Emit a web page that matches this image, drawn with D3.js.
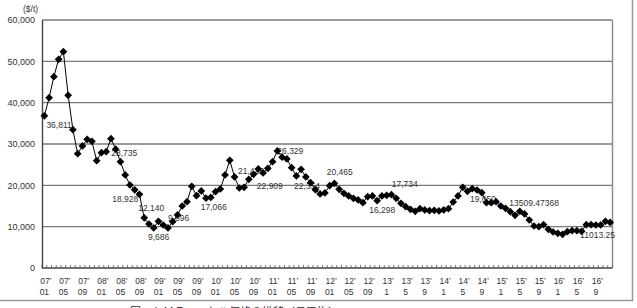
<!DOCTYPE html>
<html>
<head>
<meta charset="utf-8">
<script src="https://cdn.jsdelivr.net/npm/d3@7"></script>
<style>
  body { margin: 0; background: #fff; }
  svg { display: block; font-family: "Liberation Sans", Arial, sans-serif; }
</style>
</head>
<body>
<svg width="637" height="308"></svg>
<script>
// monthly price, 2007-01 .. 2016-12 ($/t)
var prices2007 = [36811, 41212, 46290, 50486, 52341, 41776, 33469, 27662, 29517, 31130, 30646, 25969];
var prices2008 = [27904, 28146, 31291, 28735, 25727, 22501, 20081, 18928, 17823, 12140, 10645, 9686];
var prices2009 = [11290, 10403, 9696, 11210, 12823, 15000, 16049, 19759, 17500, 18630, 16900, 17066];
var prices2010 = [18468, 19113, 22501, 26049, 22017, 19355, 19517, 21452, 22662, 23953, 22985, 24114];
var prices2011 = [25727, 28307, 26800, 26372, 24275, 22259, 23872, 22017, 20646, 18952, 17904, 18146];
var prices2012 = [19920, 20465, 19033, 18065, 17420, 16855, 16452, 15807, 17259, 17420, 16298, 17420];
var prices2013 = [17581, 17734, 16855, 15646, 14839, 14194, 13710, 14355, 14033, 13871, 13952, 13791];
var prices2014 = [14033, 14355, 15968, 17420, 19517, 18549, 19194, 18871, 18226, 15807, 15807, 16049];
var prices2015 = [15000, 14436, 13629, 12742, 13710, 13065, 11613, 10161, 10000, 10484, 9355, 8710];
var prices2016 = [8387, 8145, 8790, 9032, 9032, 8871, 10484, 10484, 10403, 10403, 11290, 11013];

var years = ["07", "08", "09", "10", "11", "12", "13", "14", "15", "16"];
var monthLabels = ["01", "05", "09", "01", "05", "09", "01", "05", "09", "01", "05", "09",
                   "01", "05", "09", "01", "05", "09", "1", "5", "9", "1", "5", "9",
                   "1", "5", "9", "1", "5", "9"];
var yTicks = [0, 10000, 20000, 30000, 40000, 50000, 60000];

// data labels: point index and text
var labelIndex = [0, 15, 19, 21, 23, 26, 35, 43, 47, 49, 54, 61, 70, 73, 93, 100, 119];
var labelText = ["36,811", "28,735", "18,928", "12,140", "9,686", "9,696", "17,066", "21,413",
                 "22,909", "26,329", "22,354", "20,465", "16,298", "17,734", "19,050",
                 "13509.47368", "11013.25"];

var values = [].concat(prices2007, prices2008, prices2009, prices2010, prices2011,
                       prices2012, prices2013, prices2014, prices2015, prices2016);

var svg = d3.select("svg"),
    plotLeft = 42, plotRight = 612.5, plotTop = 20, plotBottom = 268;

var x = d3.scaleBand().domain(d3.range(values.length)).range([plotLeft, plotRight]);
var y = d3.scaleLinear().domain([0, 60000]).range([plotBottom, plotTop]);
var cx = function(i) { return x(i) + x.bandwidth() / 2; };

// outer frame (right + bottom edges visible)
svg.append("path")
    .attr("d", "M0,300.5H632.5V0")
    .attr("fill", "none")
    .attr("stroke", "#999")
    .attr("stroke-width", 1.5);

// gridlines
svg.append("g")
  .selectAll("line")
  .data(yTicks.slice(1))
  .enter().append("line")
    .attr("x1", plotLeft).attr("x2", plotRight)
    .attr("y1", function(d) { return y(d); })
    .attr("y2", function(d) { return y(d); })
    .attr("stroke", "#7a7a7a")
    .attr("stroke-width", 1.4);

// right border of the plot
svg.append("line")
    .attr("x1", plotRight).attr("x2", plotRight)
    .attr("y1", plotTop).attr("y2", plotBottom)
    .attr("stroke", "#8a8a8a")
    .attr("stroke-width", 1.4);

// Y axis
var yAxis = d3.axisLeft(y)
    .tickValues(yTicks)
    .tickSize(0)
    .tickPadding(7)
    .tickFormat(d3.format(","));

svg.append("g")
    .attr("transform", "translate(" + plotLeft + ",0)")
    .call(yAxis)
    .call(function(g) {
      g.select(".domain").attr("stroke", "#444").attr("stroke-width", 1.4);
      g.selectAll("text").attr("font-size", 9).attr("fill", "#333")
        .attr("font-family", "'Liberation Sans', Arial, sans-serif");
    });

svg.append("text")
    .attr("x", 23).attr("y", 12)
    .attr("font-size", 8.5)
    .attr("fill", "#333")
    .text("($/t)");

// X axis: line, inside ticks at every month boundary
var xAxisG = svg.append("g");
xAxisG.append("line")
    .attr("x1", plotLeft).attr("x2", plotRight)
    .attr("y1", plotBottom).attr("y2", plotBottom)
    .attr("stroke", "#444")
    .attr("stroke-width", 1.4);

xAxisG.selectAll(".tk")
  .data(d3.range(values.length + 1))
  .enter().append("line")
    .attr("class", "tk")
    .attr("x1", function(i) { return plotLeft + i * x.bandwidth(); })
    .attr("x2", function(i) { return plotLeft + i * x.bandwidth(); })
    .attr("y1", plotBottom).attr("y2", plotBottom - 3)
    .attr("stroke", "#555")
    .attr("stroke-width", 0.8);

var tickIdx = d3.range(0, values.length, 4);
var xl = xAxisG.selectAll(".xl")
  .data(tickIdx)
  .enter().append("text")
    .attr("class", "xl")
    .attr("text-anchor", "middle")
    .attr("font-size", 8.5)
    .attr("fill", "#333");
xl.append("tspan")
    .attr("x", function(i) { return cx(i) + 1.5; })
    .attr("y", 283.5)
    .text(function(i) { return years[Math.floor(i / 12)] + "\u2019"; });
xl.append("tspan")
    .attr("x", function(i) { return cx(i); })
    .attr("y", 295)
    .text(function(i, k) { return monthLabels[k]; });

// data labels (drawn under the markers)
var labelOffset = [[2, 9], [-4.5, 4], [-22.5, 9], [-6, -9.5], [-5.7, 8.7], [0, -9.7], [-10, 10],
                   [-10.8, -8.6], [-11, 17.7], [0, 0], [-7, 16.7], [-7.7, -11], [-8, 9.5],
                   [0.3, -10.7], [-16.5, -3.5], [-10.5, -8.6], [-30, 12.8]];

svg.append("g")
  .selectAll("text")
  .data(labelIndex)
  .enter().append("text")
    .attr("x", function(i, k) { return cx(i) + labelOffset[k][0]; })
    .attr("y", function(i, k) { return y(values[i]) + labelOffset[k][1]; })
    .attr("dy", "0.35em")
    .attr("font-size", 8.5)
    .attr("fill", "#333")
    .text(function(i, k) { return labelText[k]; });

// line + diamond markers
var line = d3.line()
    .x(function(d, i) { return cx(i); })
    .y(function(d) { return y(d); });

svg.append("path")
    .attr("d", line(values))
    .attr("fill", "none")
    .attr("stroke", "#000")
    .attr("stroke-width", 1);

var diamond = d3.symbol().type(d3.symbolSquare).size(30);
svg.append("g")
  .selectAll("path")
  .data(values)
  .enter().append("path")
    .attr("d", diamond)
    .attr("transform", function(d, i) {
      return "translate(" + cx(i) + "," + y(d) + ")rotate(45)";
    })
    .attr("fill", "#000");

// caption (cut off by the bottom edge)
svg.append("text")
    .attr("x", 130).attr("y", 316)
    .attr("font-size", 11)
    .attr("font-family", "'Noto Sans CJK JP', sans-serif")
    .attr("fill", "#333")
    .text("図　ＬＭＥニッケル価格の推移（月平均）");
</script>
</body>
</html>
